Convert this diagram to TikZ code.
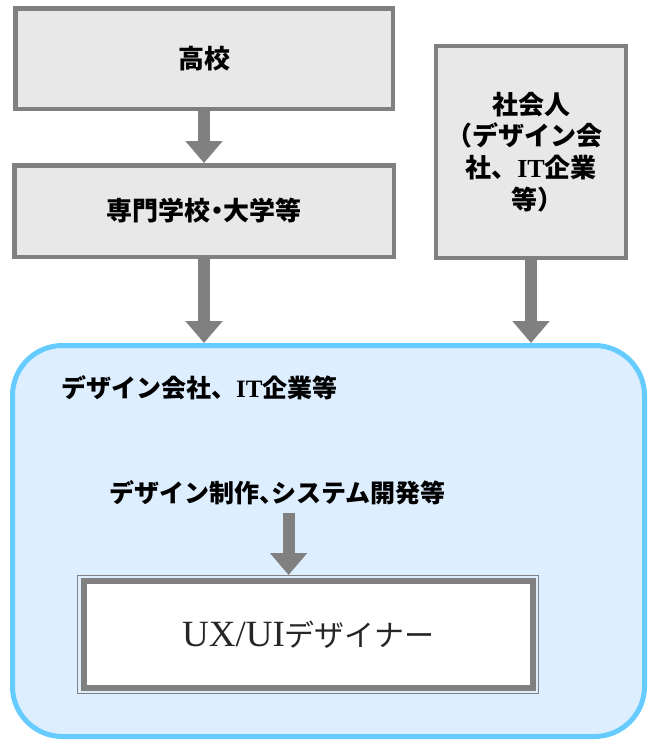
\documentclass[tikz,border=0pt]{standalone}
\usepackage{fontspec}
\setmainfont{Liberation Serif}
\newfontfamily\jp[RawFeature=+halt]{Noto Sans CJK JP}
\newfontfamily\jpw{Noto Sans CJK JP}
\usetikzlibrary{arrows.meta,positioning}
\definecolor{boxgray}{HTML}{808080}
\definecolor{stagefill}{HTML}{E8E8E8}
\definecolor{companyblue}{HTML}{66CCFF}
\definecolor{companyfill}{HTML}{DDEEFF}
\definecolor{textdark}{HTML}{262626}
\newcommand\jt[1]{{\jp #1}}

\begin{document}
\begin{tikzpicture}[
  x=1pt, y=-1pt,
  stagebox/.style={draw=boxgray, line width=4.5pt, fill=stagefill, align=center, inner sep=0pt, font=\bfseries\fontsize{26}{31.7}\selectfont},
  labeltext/.style={anchor=west, inner sep=0pt, font=\bfseries\fontsize{25}{30}\selectfont},
  arrow/.style={draw=boxgray, line width=12pt, -{Triangle[width=36pt,length=22pt]}}
]
\useasboundingbox (0,0) rectangle (657,753);
\node[stagebox, minimum width=377.5pt, minimum height=100.5pt] (highschool) at (204,58.5) {\jt{高校}};
\node[stagebox, minimum width=379.5pt, minimum height=91.5pt] (college) at (204,211) {\jt{専門学校・大学等}};
\node[stagebox, minimum width=190pt, minimum height=212pt] (worker) at (531,152) {\jt{社会人}\\\jt{（デザイン会}\\{\jpw 社、}IT\jt{企業}\\\jt{等）}};
\node[draw=companyblue, line width=5pt, fill=companyfill, rounded corners=50pt, minimum width=632pt, minimum height=391pt] (company) at (328.5,541) {};
\node[labeltext] (companyname) at (61,388) {{\jpw デザイン会社、}IT\jt{企業等}};
\node[labeltext] (work) at (109,493) {\jt{デザイン制作、システム開発等}};
\node[draw=boxgray, line width=6pt, fill=white, minimum width=448.5pt, minimum height=106.5pt, text=textdark] (designer) at (308.25,634.25) {{\fontsize{37}{40}\selectfont UX/UI}{\jp\fontsize{30}{40}\selectfont デザイナー}};
\draw[boxgray, line width=1pt] ([xshift=-3.5pt,yshift=2.5pt]designer.north west) rectangle ([xshift=3pt,yshift=-3pt]designer.south east);
\draw[arrow] (highschool) -- (college);
\draw[arrow] (college) -- (college |- company.north);
\draw[arrow] (worker) -- (worker |- company.north);
\draw[arrow, shorten <=8pt, shorten >=3pt] ([xshift=11pt]work.south) -- ([xshift=11pt]work.south |- designer.north);
\end{tikzpicture}
\end{document}
